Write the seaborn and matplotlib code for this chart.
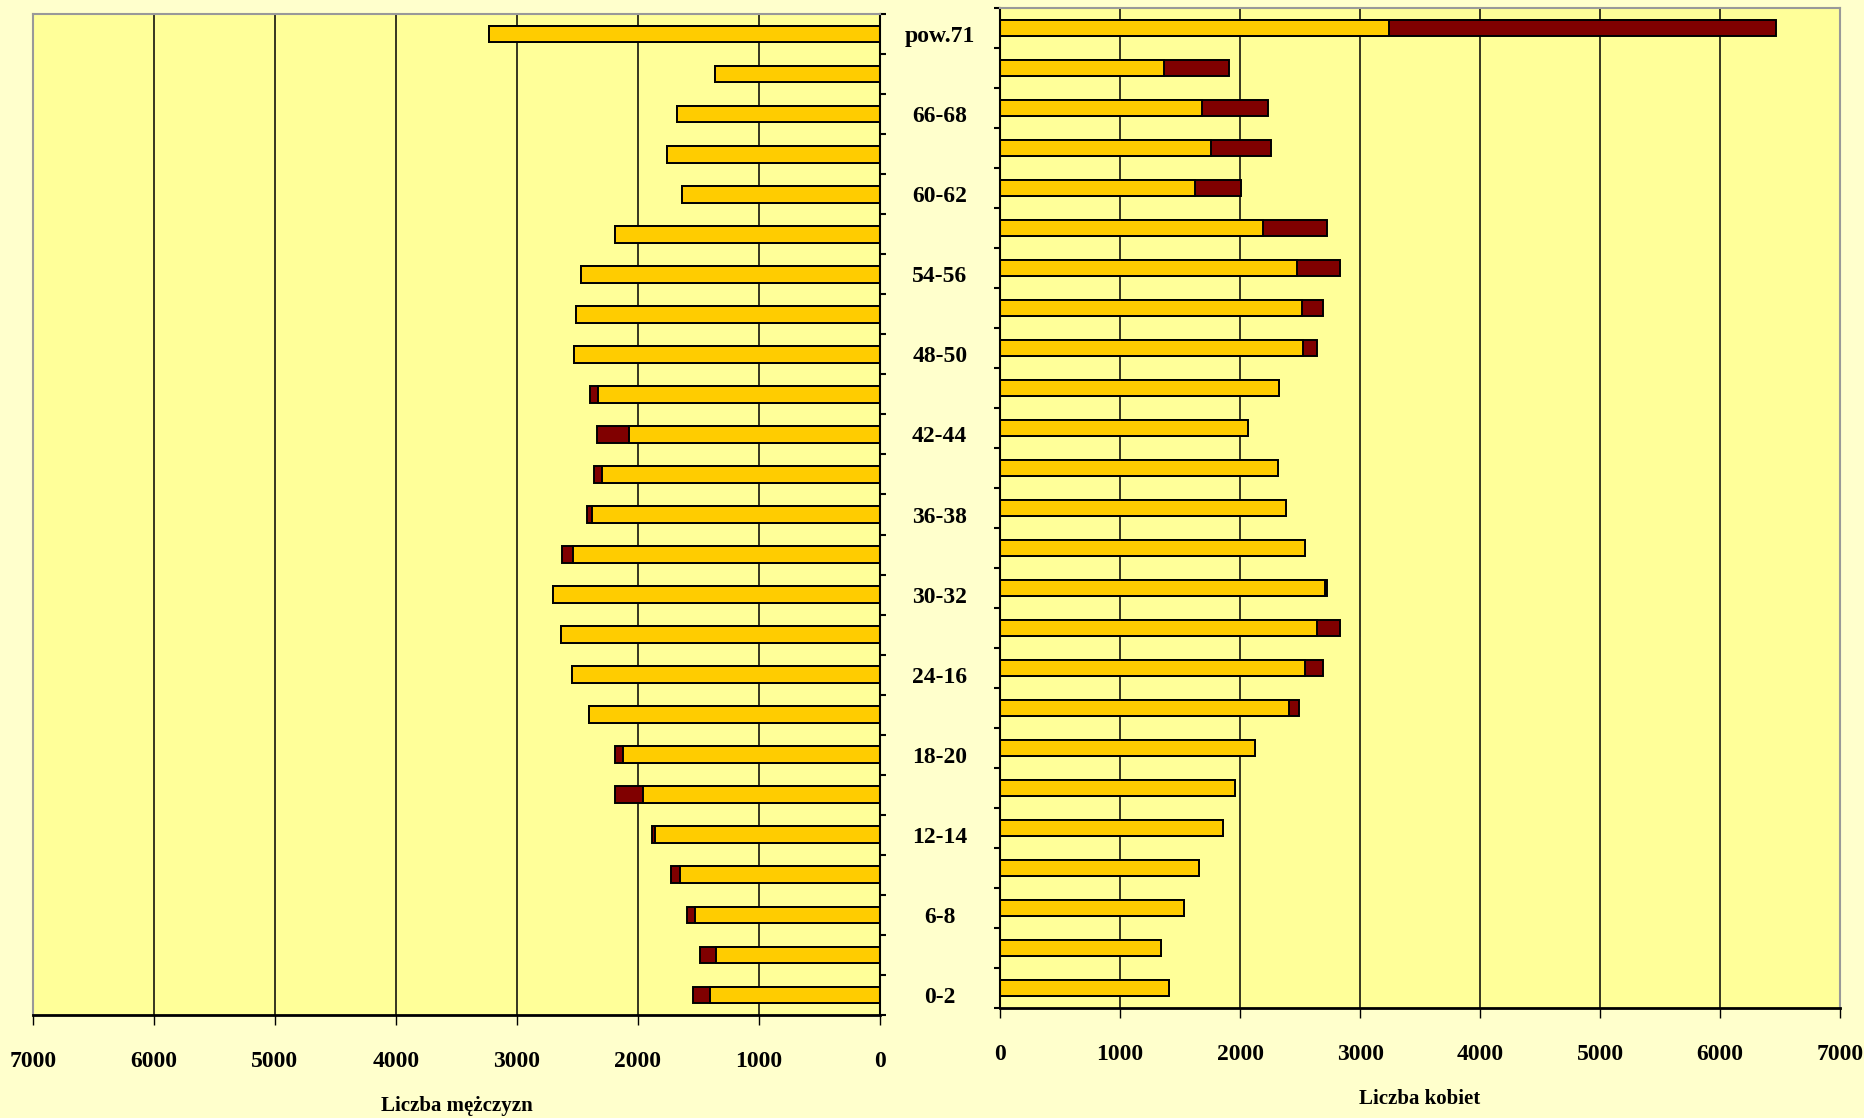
#!/usr/bin/env python3
"""Piramida wieku: liczba mezczyzn i kobiet w grupach wieku."""

import numpy as np
import pandas as pd
import matplotlib

matplotlib.use("Agg")
import matplotlib.pyplot as plt
import seaborn as sns

# Age groups, top to bottom (only every other one is labelled in the original)
AGE_GROUPS = [
    "pow.71", "69-71", "66-68", "63-65", "60-62", "57-59", "54-56", "51-53",
    "48-50", "45-47", "42-44", "39-41", "36-38", "33-35", "30-32", "27-29",
    "24-16", "21-23", "18-20", "15-17", "12-14", "9-11", "6-8", "3-5", "0-2",
]

# Men: yellow part and total length (yellow + dark red)
MEN_BASE = [
    3232, 1364, 1675, 1758, 1636, 2190, 2474, 2515, 2526, 2328, 2074, 2300,
    2378, 2540, 2705, 2636, 2543, 2408, 2121, 1962, 1862, 1650, 1526, 1353, 1408,
]
MEN_TOTAL = [
    3232, 1364, 1675, 1758, 1636, 2190, 2474, 2515, 2526, 2394, 2339, 2366,
    2422, 2625, 2705, 2636, 2543, 2408, 2190, 2190, 1882, 1730, 1595, 1488, 1543,
]

# Women
WOMEN_BASE = [
    3243, 1365, 1680, 1761, 1624, 2187, 2471, 2513, 2527, 2326, 2064, 2312,
    2379, 2544, 2705, 2638, 2544, 2404, 2120, 1956, 1861, 1655, 1532, 1340, 1407,
]
WOMEN_TOTAL = [
    6465, 1903, 2232, 2259, 2009, 2725, 2833, 2694, 2641, 2326, 2064, 2312,
    2379, 2544, 2722, 2833, 2694, 2493, 2120, 1956, 1861, 1655, 1532, 1340, 1407,
]

X_TICKS = [0, 1000, 2000, 3000, 4000, 5000, 6000, 7000]

FIG_BG = "#FFFFCC"
AX_BG = "#FFFF99"
YELLOW = "#FFCC00"
DARK_RED = "#800000"
BAR_W = 0.42


def draw_side(ax, df, base_col, total_col):
    """Stacked horizontal bars: dark red total underneath, yellow base on top."""
    ax.set_facecolor(AX_BG)
    ax.set_axisbelow(True)
    sns.barplot(data=df, x=total_col, y="age", orient="h", color=DARK_RED,
                saturation=1, edgecolor="black", linewidth=1.4, width=BAR_W,
                errorbar=None, ax=ax)
    sns.barplot(data=df, x=base_col, y="age", orient="h", color=YELLOW,
                saturation=1, edgecolor="black", linewidth=1.4, width=BAR_W,
                errorbar=None, ax=ax)
    ax.grid(axis="x", color="black", linewidth=1.1)
    ax.grid(axis="y", visible=False)
    ax.set_ylim(len(AGE_GROUPS) - 0.5, -0.5)
    ax.set_xticks(X_TICKS)
    ax.set_xticklabels([str(v) for v in X_TICKS])
    ax.tick_params(axis="x", length=7, width=1, pad=19, labelsize=17)
    ax.set_yticks(np.arange(-0.5, len(AGE_GROUPS), 1), minor=True)
    ax.tick_params(axis="y", which="minor", length=4.5, width=1.5)
    ax.set_ylabel("")
    for s in ["top", "left", "right"]:
        ax.spines[s].set_color("#999999")
        ax.spines[s].set_linewidth(1.5)
    ax.spines["bottom"].set_color("black")
    ax.spines["bottom"].set_linewidth(2)


def main():
    plt.rcParams["font.family"] = ["Liberation Serif", "DejaVu Serif"]
    plt.rcParams["font.weight"] = "bold"

    df = pd.DataFrame({
        "age": AGE_GROUPS,
        "men_base": MEN_BASE,
        "men_total": MEN_TOTAL,
        "women_base": WOMEN_BASE,
        "women_total": WOMEN_TOTAL,
    })

    fig = plt.figure(figsize=(18.64, 11.18), dpi=100, facecolor=FIG_BG)
    ax_m = fig.add_axes([0.0177, 0.0921, 0.4544, 0.8954])
    ax_w = fig.add_axes([0.5366, 0.0984, 0.4505, 0.8944])

    # Men (left, axis reversed)
    draw_side(ax_m, df, "men_base", "men_total")
    ax_m.set_xlim(7000, 0)
    ax_m.yaxis.tick_right()
    ax_m.spines["right"].set_color("black")
    major = np.arange(0, len(AGE_GROUPS), 2)
    ax_m.set_yticks(major)
    ax_m.set_yticklabels([AGE_GROUPS[i] for i in major])
    ax_m.tick_params(axis="y", which="major", length=0, pad=43, labelsize=17)
    for lbl in ax_m.get_yticklabels():
        lbl.set_horizontalalignment("center")
    ax_m.set_xlabel("Liczba mężczyzn", fontsize=15, fontweight="bold", labelpad=17)

    # Women (right)
    draw_side(ax_w, df, "women_base", "women_total")
    ax_w.set_xlim(0, 7000)
    ax_w.spines["left"].set_color("black")
    ax_w.set_yticks([])
    ax_w.set_yticks(np.arange(-0.5, len(AGE_GROUPS), 1), minor=True)
    ax_w.tick_params(axis="y", which="minor", length=4.5, width=1.5)
    ax_w.set_xlabel("Liczba kobiet", fontsize=15, fontweight="bold", labelpad=17)

    fig.savefig("out.png", dpi=100, facecolor=FIG_BG)


if __name__ == "__main__":
    main()
